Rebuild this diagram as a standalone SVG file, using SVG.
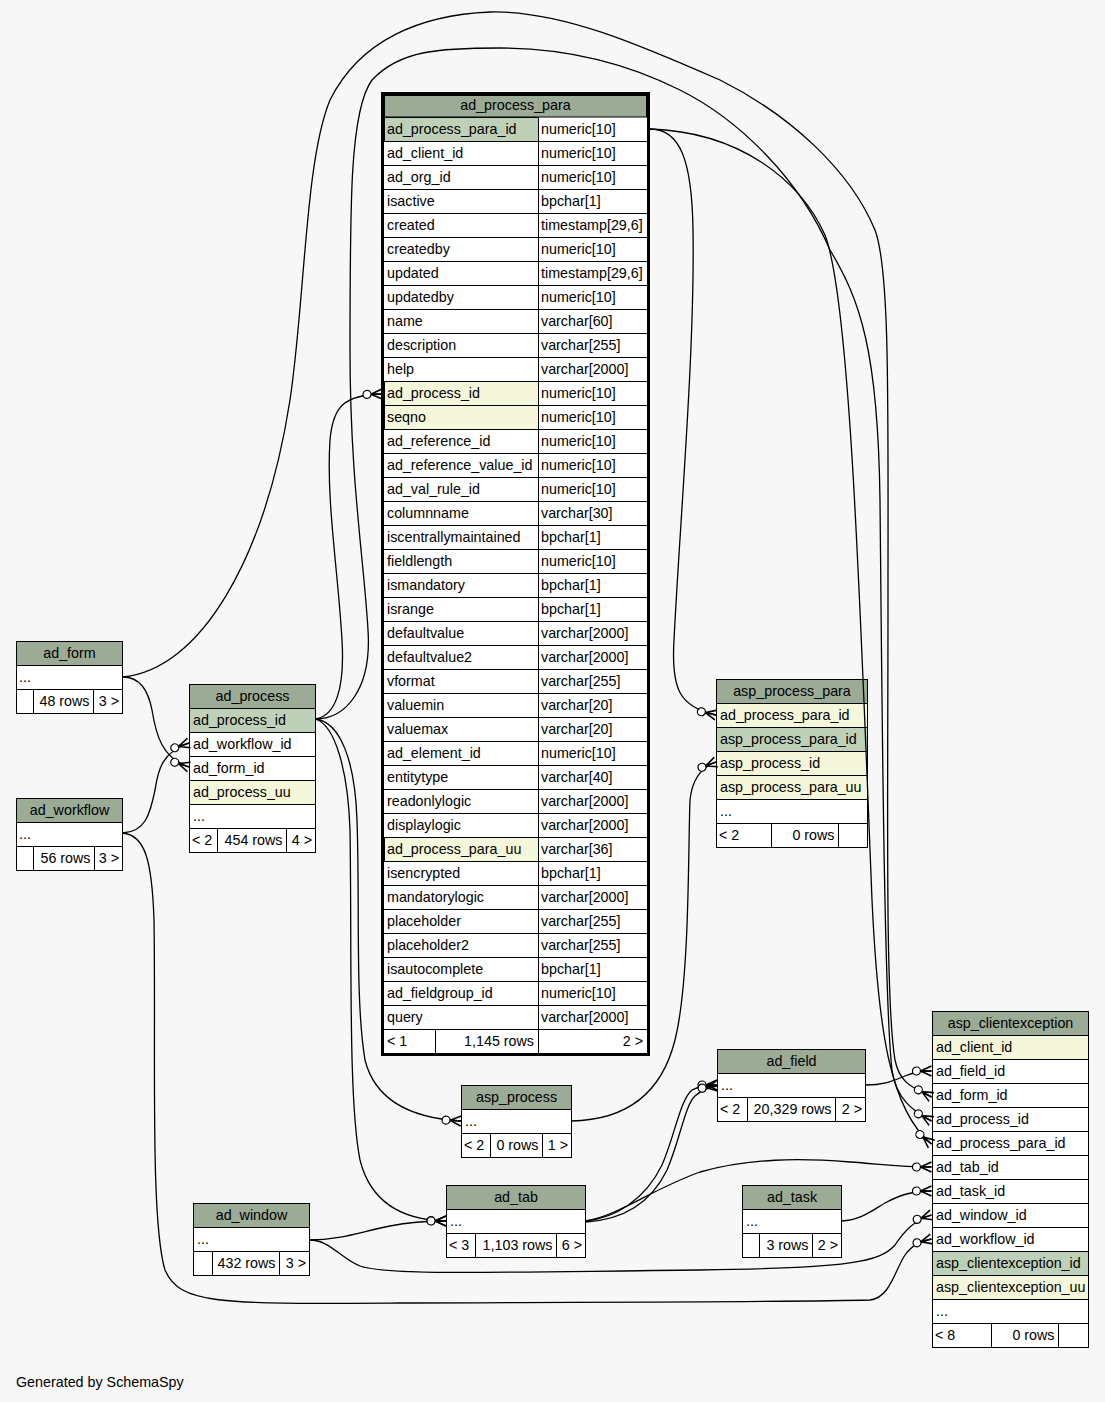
<svg xmlns="http://www.w3.org/2000/svg" width="1105" height="1402" viewBox="0 0 1105 1402">
<style>
text{font-family:"Liberation Sans",Arial,Helvetica,sans-serif;font-size:14.3px;fill:#000}
.c{text-anchor:middle}
.r{text-anchor:end}
.h{fill:#9bab96;stroke:#000;stroke-width:1}
.pk{fill:#bed1b8;stroke:#000;stroke-width:1}
.ix{fill:#f4f7da;stroke:#000;stroke-width:1}
.w{fill:#ffffff;stroke:#000;stroke-width:1}
.e{fill:none;stroke:#000;stroke-width:1.3;marker-end:url(#crow)}
</style>
<defs>
<marker id="crow" viewBox="-20 -7 21 14" refX="0" refY="0" markerWidth="21" markerHeight="14" markerUnits="userSpaceOnUse" orient="auto">
<path d="M0,-5 L-11,0 L0,5 M-11,0 H0" fill="none" stroke="#000" stroke-width="1.6"/>
<circle cx="-15" cy="0" r="4" fill="#fff" stroke="#000" stroke-width="1.2"/>
</marker>
</defs>
<rect x="0" y="0" width="1105" height="1402" fill="#f7f7f7"/>

<g id="ad_process_para">
<rect x="382.5" y="93.5" width="266" height="961" fill="#fff" stroke="#000" stroke-width="3"/>
<rect x="384.5" y="95.5" width="262" height="21.5" class="h"/>
<rect x="384.5" y="117.5" width="154" height="24" class="pk"/>
<rect x="384.5" y="381.5" width="154" height="24" class="ix"/>
<rect x="384.5" y="405.5" width="154" height="24" class="ix"/>
<rect x="384.5" y="837.5" width="154" height="24" class="ix"/>
<path d="M384,141.5H647M384,165.5H647M384,189.5H647M384,213.5H647M384,237.5H647M384,261.5H647M384,285.5H647M384,309.5H647M384,333.5H647M384,357.5H647M384,381.5H647M384,405.5H647M384,429.5H647M384,453.5H647M384,477.5H647M384,501.5H647M384,525.5H647M384,549.5H647M384,573.5H647M384,597.5H647M384,621.5H647M384,645.5H647M384,669.5H647M384,693.5H647M384,717.5H647M384,741.5H647M384,765.5H647M384,789.5H647M384,813.5H647M384,837.5H647M384,861.5H647M384,885.5H647M384,909.5H647M384,933.5H647M384,957.5H647M384,981.5H647M384,1005.5H647M384,1029.5H647M538.5,117V1053M435.5,1029V1053" stroke="#000" stroke-width="1" fill="none"/>
<text x="515.5" y="110" class="c">ad_process_para</text>
<text x="387" y="134">ad_process_para_id</text><text x="541" y="134">numeric[10]</text>
<text x="387" y="158">ad_client_id</text><text x="541" y="158">numeric[10]</text>
<text x="387" y="182">ad_org_id</text><text x="541" y="182">numeric[10]</text>
<text x="387" y="206">isactive</text><text x="541" y="206">bpchar[1]</text>
<text x="387" y="230">created</text><text x="541" y="230">timestamp[29,6]</text>
<text x="387" y="254">createdby</text><text x="541" y="254">numeric[10]</text>
<text x="387" y="278">updated</text><text x="541" y="278">timestamp[29,6]</text>
<text x="387" y="302">updatedby</text><text x="541" y="302">numeric[10]</text>
<text x="387" y="326">name</text><text x="541" y="326">varchar[60]</text>
<text x="387" y="350">description</text><text x="541" y="350">varchar[255]</text>
<text x="387" y="374">help</text><text x="541" y="374">varchar[2000]</text>
<text x="387" y="398">ad_process_id</text><text x="541" y="398">numeric[10]</text>
<text x="387" y="422">seqno</text><text x="541" y="422">numeric[10]</text>
<text x="387" y="446">ad_reference_id</text><text x="541" y="446">numeric[10]</text>
<text x="387" y="470">ad_reference_value_id</text><text x="541" y="470">numeric[10]</text>
<text x="387" y="494">ad_val_rule_id</text><text x="541" y="494">numeric[10]</text>
<text x="387" y="518">columnname</text><text x="541" y="518">varchar[30]</text>
<text x="387" y="542">iscentrallymaintained</text><text x="541" y="542">bpchar[1]</text>
<text x="387" y="566">fieldlength</text><text x="541" y="566">numeric[10]</text>
<text x="387" y="590">ismandatory</text><text x="541" y="590">bpchar[1]</text>
<text x="387" y="614">isrange</text><text x="541" y="614">bpchar[1]</text>
<text x="387" y="638">defaultvalue</text><text x="541" y="638">varchar[2000]</text>
<text x="387" y="662">defaultvalue2</text><text x="541" y="662">varchar[2000]</text>
<text x="387" y="686">vformat</text><text x="541" y="686">varchar[255]</text>
<text x="387" y="710">valuemin</text><text x="541" y="710">varchar[20]</text>
<text x="387" y="734">valuemax</text><text x="541" y="734">varchar[20]</text>
<text x="387" y="758">ad_element_id</text><text x="541" y="758">numeric[10]</text>
<text x="387" y="782">entitytype</text><text x="541" y="782">varchar[40]</text>
<text x="387" y="806">readonlylogic</text><text x="541" y="806">varchar[2000]</text>
<text x="387" y="830">displaylogic</text><text x="541" y="830">varchar[2000]</text>
<text x="387" y="854">ad_process_para_uu</text><text x="541" y="854">varchar[36]</text>
<text x="387" y="878">isencrypted</text><text x="541" y="878">bpchar[1]</text>
<text x="387" y="902">mandatorylogic</text><text x="541" y="902">varchar[2000]</text>
<text x="387" y="926">placeholder</text><text x="541" y="926">varchar[255]</text>
<text x="387" y="950">placeholder2</text><text x="541" y="950">varchar[255]</text>
<text x="387" y="974">isautocomplete</text><text x="541" y="974">bpchar[1]</text>
<text x="387" y="998">ad_fieldgroup_id</text><text x="541" y="998">numeric[10]</text>
<text x="387" y="1022">query</text><text x="541" y="1022">varchar[2000]</text>
<text x="387" y="1046">&lt; 1</text>
<text x="534" y="1046" class="r">1,145 rows</text>
<text x="643" y="1046" class="r">2 &gt;</text>
</g>

<g id="ad_form">
<rect x="16.5" y="641.5" width="106" height="24" class="h"/>
<rect x="16.5" y="665.5" width="106" height="24" class="w"/>
<rect x="16.5" y="689.5" width="17" height="24" class="w"/>
<rect x="33.5" y="689.5" width="60" height="24" class="w"/>
<rect x="93.5" y="689.5" width="29" height="24" class="w"/>
<text x="69.5" y="658" class="c">ad_form</text>
<text x="19" y="682">...</text>
<text x="89.5" y="706" class="r">48 rows</text>
<text x="119" y="706" class="r">3 &gt;</text>
</g>

<g id="ad_workflow">
<rect x="16.5" y="798.5" width="106" height="24" class="h"/>
<rect x="16.5" y="822.5" width="106" height="24" class="w"/>
<rect x="16.5" y="846.5" width="17" height="24" class="w"/>
<rect x="33.5" y="846.5" width="61" height="24" class="w"/>
<rect x="94.5" y="846.5" width="28" height="24" class="w"/>
<text x="69.5" y="815" class="c">ad_workflow</text>
<text x="19" y="839">...</text>
<text x="90.5" y="863" class="r">56 rows</text>
<text x="119" y="863" class="r">3 &gt;</text>
</g>

<g id="ad_process">
<rect x="189.5" y="684.5" width="126" height="24" class="h"/>
<rect x="189.5" y="708.5" width="126" height="24" class="pk"/>
<rect x="189.5" y="732.5" width="126" height="24" class="w"/>
<rect x="189.5" y="756.5" width="126" height="24" class="w"/>
<rect x="189.5" y="780.5" width="126" height="24" class="ix"/>
<rect x="189.5" y="804.5" width="126" height="24" class="w"/>
<rect x="189.5" y="828.5" width="28" height="24" class="w"/>
<rect x="217.5" y="828.5" width="69" height="24" class="w"/>
<rect x="286.5" y="828.5" width="29" height="24" class="w"/>
<text x="252.5" y="701" class="c">ad_process</text>
<text x="193" y="725">ad_process_id</text>
<text x="193" y="749">ad_workflow_id</text>
<text x="193" y="773">ad_form_id</text>
<text x="193" y="797">ad_process_uu</text>
<text x="193" y="821">...</text>
<text x="192" y="845">&lt; 2</text>
<text x="282.5" y="845" class="r">454 rows</text>
<text x="312" y="845" class="r">4 &gt;</text>
</g>

<g id="asp_process_para">
<rect x="716.5" y="679.5" width="151" height="24" class="h"/>
<rect x="716.5" y="703.5" width="151" height="24" class="ix"/>
<rect x="716.5" y="727.5" width="151" height="24" class="pk"/>
<rect x="716.5" y="751.5" width="151" height="24" class="ix"/>
<rect x="716.5" y="775.5" width="151" height="24" class="ix"/>
<rect x="716.5" y="799.5" width="151" height="24" class="w"/>
<rect x="716.5" y="823.5" width="55" height="24" class="w"/>
<rect x="771.5" y="823.5" width="67" height="24" class="w"/>
<rect x="838.5" y="823.5" width="29" height="24" class="w"/>
<text x="792" y="696" class="c">asp_process_para</text>
<text x="720" y="720">ad_process_para_id</text>
<text x="720" y="744">asp_process_para_id</text>
<text x="720" y="768">asp_process_id</text>
<text x="720" y="792">asp_process_para_uu</text>
<text x="720" y="816">...</text>
<text x="719" y="840">&lt; 2</text>
<text x="834.5" y="840" class="r">0 rows</text>
</g>

<g id="asp_clientexception">
<rect x="932.5" y="1011.5" width="156" height="24" class="h"/>
<rect x="932.5" y="1035.5" width="156" height="24" class="ix"/>
<rect x="932.5" y="1059.5" width="156" height="24" class="w"/>
<rect x="932.5" y="1083.5" width="156" height="24" class="w"/>
<rect x="932.5" y="1107.5" width="156" height="24" class="w"/>
<rect x="932.5" y="1131.5" width="156" height="24" class="w"/>
<rect x="932.5" y="1155.5" width="156" height="24" class="w"/>
<rect x="932.5" y="1179.5" width="156" height="24" class="w"/>
<rect x="932.5" y="1203.5" width="156" height="24" class="w"/>
<rect x="932.5" y="1227.5" width="156" height="24" class="w"/>
<rect x="932.5" y="1251.5" width="156" height="24" class="pk"/>
<rect x="932.5" y="1275.5" width="156" height="24" class="ix"/>
<rect x="932.5" y="1299.5" width="156" height="24" class="w"/>
<rect x="932.5" y="1323.5" width="59" height="24" class="w"/>
<rect x="991.5" y="1323.5" width="67" height="24" class="w"/>
<rect x="1058.5" y="1323.5" width="30" height="24" class="w"/>
<text x="1010.5" y="1028" class="c">asp_clientexception</text>
<text x="936" y="1052">ad_client_id</text>
<text x="936" y="1076">ad_field_id</text>
<text x="936" y="1100">ad_form_id</text>
<text x="936" y="1124">ad_process_id</text>
<text x="936" y="1148">ad_process_para_id</text>
<text x="936" y="1172">ad_tab_id</text>
<text x="936" y="1196">ad_task_id</text>
<text x="936" y="1220">ad_window_id</text>
<text x="936" y="1244">ad_workflow_id</text>
<text x="936" y="1268">asp_clientexception_id</text>
<text x="936" y="1292">asp_clientexception_uu</text>
<text x="936" y="1316">...</text>
<text x="935" y="1340">&lt; 8</text>
<text x="1054.5" y="1340" class="r">0 rows</text>
</g>

<g id="ad_field">
<rect x="717.5" y="1049.5" width="148" height="24" class="h"/>
<rect x="717.5" y="1073.5" width="148" height="24" class="w"/>
<rect x="717.5" y="1097.5" width="30" height="24" class="w"/>
<rect x="747.5" y="1097.5" width="88" height="24" class="w"/>
<rect x="835.5" y="1097.5" width="30" height="24" class="w"/>
<text x="791.5" y="1066" class="c">ad_field</text>
<text x="721" y="1090">...</text>
<text x="720" y="1114">&lt; 2</text>
<text x="831.5" y="1114" class="r">20,329 rows</text>
<text x="862" y="1114" class="r">2 &gt;</text>
</g>

<g id="asp_process">
<rect x="461.5" y="1085.5" width="110" height="24" class="h"/>
<rect x="461.5" y="1109.5" width="110" height="24" class="w"/>
<rect x="461.5" y="1133.5" width="29" height="24" class="w"/>
<rect x="490.5" y="1133.5" width="52" height="24" class="w"/>
<rect x="542.5" y="1133.5" width="29" height="24" class="w"/>
<text x="516.5" y="1102" class="c">asp_process</text>
<text x="465" y="1126">...</text>
<text x="464" y="1150">&lt; 2</text>
<text x="538.5" y="1150" class="r">0 rows</text>
<text x="568" y="1150" class="r">1 &gt;</text>
</g>

<g id="ad_tab">
<rect x="446.5" y="1185.5" width="139" height="24" class="h"/>
<rect x="446.5" y="1209.5" width="139" height="24" class="w"/>
<rect x="446.5" y="1233.5" width="29" height="24" class="w"/>
<rect x="475.5" y="1233.5" width="81" height="24" class="w"/>
<rect x="556.5" y="1233.5" width="29" height="24" class="w"/>
<text x="516" y="1202" class="c">ad_tab</text>
<text x="450" y="1226">...</text>
<text x="449" y="1250">&lt; 3</text>
<text x="552.5" y="1250" class="r">1,103 rows</text>
<text x="582" y="1250" class="r">6 &gt;</text>
</g>

<g id="ad_task">
<rect x="742.5" y="1185.5" width="99" height="24" class="h"/>
<rect x="742.5" y="1209.5" width="99" height="24" class="w"/>
<rect x="742.5" y="1233.5" width="17" height="24" class="w"/>
<rect x="759.5" y="1233.5" width="53" height="24" class="w"/>
<rect x="812.5" y="1233.5" width="29" height="24" class="w"/>
<text x="792" y="1202" class="c">ad_task</text>
<text x="746" y="1226">...</text>
<text x="808.5" y="1250" class="r">3 rows</text>
<text x="838" y="1250" class="r">2 &gt;</text>
</g>

<g id="ad_window">
<rect x="193.5" y="1203.5" width="116" height="24" class="h"/>
<rect x="193.5" y="1227.5" width="116" height="24" class="w"/>
<rect x="193.5" y="1251.5" width="19" height="24" class="w"/>
<rect x="212.5" y="1251.5" width="67" height="24" class="w"/>
<rect x="279.5" y="1251.5" width="30" height="24" class="w"/>
<text x="251.5" y="1220" class="c">ad_window</text>
<text x="197" y="1244">...</text>
<text x="275.5" y="1268" class="r">432 rows</text>
<text x="306" y="1268" class="r">3 &gt;</text>
</g>

<g id="connectors">
<path class="e" d="M650,129 C680,129 692,160 693,230 C695,350 680,520 674,640 C671,690 680,707 716,715"/>
<path class="e" d="M650,129 C740,132 800,180 825,235 C850,300 860,600 872,900 C878,1030 890,1110 931.5,1144"/>
<path class="e" d="M122.5,677 C200,670 265,560 290,400 C305,300 305,160 330,100 C360,40 420,15 490,12 C560,10 640,45 720,80 C790,115 850,170 875,230 C890,270 888,400 888,600 C888,800 885,1000 895,1060 C900,1085 915,1088 931.5,1097"/>
<path class="e" d="M315.5,719 C345,719 372,690 368,630 C364,560 350,480 350,350 C350,200 350,110 372,80 C400,50 440,48 500,48 C560,48 620,60 680,90 C740,120 800,180 830,250 C860,300 878,350 880,500 C882,700 884,1000 892,1070 C896,1100 915,1112 931.5,1121"/>
<path class="e" d="M315.5,719 C335,716 345,690 342,640 C338,570 326,500 330,440 C333,405 345,395 382,394"/>
<path class="e" d="M315.5,719 C340,722 355,760 357,820 C360,900 355,1000 365,1060 C375,1100 410,1118 461,1121"/>
<path class="e" d="M315.5,719 C335,725 348,770 350,830 C352,950 348,1100 360,1160 C370,1200 400,1220 446,1221"/>
<path class="e" d="M309.5,1240 C340,1240 360,1232 390,1226 C410,1222 425,1221 446,1221"/>
<path class="e" d="M309.5,1240 C330,1240 340,1258 360,1266 C390,1276 500,1272 700,1270 C850,1268 880,1262 895,1245 C905,1230 915,1220 931.5,1215"/>
<path class="e" d="M122.5,833 C145,835 152,860 154,920 C156,1050 150,1220 165,1270 C180,1305 220,1304 400,1303 C600,1302 800,1302 870,1300 C890,1298 895,1270 905,1255 C912,1245 920,1242 931.5,1239"/>
<path class="e" d="M122.5,833 C145,832 150,815 155,790 C158,770 162,752 189,743"/>
<path class="e" d="M122.5,677 C140,677 148,690 152,710 C156,735 162,758 189,767"/>
<path class="e" d="M571.5,1121 C620,1120 660,1100 675,1040 C690,980 688,850 690,800 C692,780 700,768 716,762"/>
<path class="e" d="M585.5,1221 C615,1218 645,1200 662,1165 C675,1135 680,1100 692,1090 C700,1086 708,1085 717,1085"/>
<path class="e" d="M585.5,1222 C620,1220 650,1205 667,1170 C680,1140 685,1105 695,1096 C702,1090 710,1087 717,1086"/>
<path class="e" d="M585.5,1221 C620,1215 650,1190 700,1172 C750,1158 800,1158 850,1162 C880,1164 900,1167 931.5,1167"/>
<path class="e" d="M841.5,1221 C860,1220 870,1212 885,1203 C900,1195 912,1191 931.5,1191"/>
<path class="e" d="M865.5,1085 C885,1085 895,1080 905,1076 C915,1072 920,1071 931.5,1071"/>
</g>

<text x="16" y="1387">Generated by SchemaSpy</text>
</svg>
